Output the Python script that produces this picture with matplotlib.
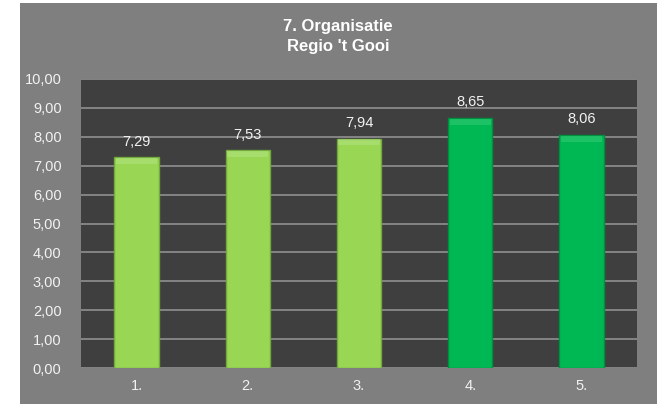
import matplotlib.pyplot as plt
from matplotlib.patches import Rectangle

categories = ["1.", "2.", "3.", "4.", "5."]
scores = [7.29, 7.53, 7.94, 8.65, 8.06]
colors = ["#98d654", "#98d654", "#98d654", "#00b853", "#00b853"]
edges = ["#72a83c", "#72a83c", "#72a83c", "#008f3e", "#008f3e"]
highlights = ["#b4e483", "#b4e483", "#b4e483", "#35c977", "#35c977"]
y_ticks = [0, 1, 2, 3, 4, 5, 6, 7, 8, 9, 10]

plt.rcParams['font.family'] = ['Liberation Sans', 'DejaVu Sans']

fig = plt.figure(figsize=(6.57, 4.04), dpi=100)
fig.patch.set_facecolor("white")
# grey chart panel behind the axes
fig.patches.append(Rectangle((20 / 657, 0), 1 - 20 / 657, 1 - 3 / 404,
                             transform=fig.transFigure, facecolor="#7f7f7f",
                             edgecolor="none", zorder=-10))

ax = fig.add_axes([81 / 657, 36 / 404, 556 / 657, 289 / 404])
ax.set_zorder(1)
ax.set_facecolor("#3f3f3f")

x = range(len(categories))
ax.bar(x, scores, width=0.4, color=colors, edgecolor=edges, linewidth=1.0, zorder=3)
# light bevel along the top of each bar
ax.bar(x, [0.22] * len(scores), width=0.37, bottom=[s - 0.24 for s in scores],
       color=highlights, edgecolor="none", alpha=0.55, zorder=4)

for i, s in enumerate(scores):
    ax.text(i, s + 0.3, f"{s:.2f}".replace(".", ","), ha="center", va="bottom",
            color="#f2f2f2", fontsize=10.5, zorder=5)

ax.set_ylim(0, 10)
ax.set_xlim(-0.5, len(categories) - 0.5)
ax.set_yticks(y_ticks)
ax.set_yticklabels([f"{t:.2f}".replace(".", ",") for t in y_ticks])
ax.set_xticks(list(x))
ax.set_xticklabels(categories)
ax.tick_params(axis="both", length=0, colors="#f2f2f2", labelsize=10.5)
ax.tick_params(axis="y", pad=14)
ax.tick_params(axis="x", pad=8)
ax.grid(axis="y", color="#8a8a8a", linewidth=1.3, zorder=1)
ax.set_axisbelow(True)
for side in ["left", "right", "bottom", "top"]:
    ax.spines[side].set_visible(False)

fig.text(338 / 657, 1 - 26 / 404, "7. Organisatie", ha="center", va="center",
         color="white", fontsize=12, fontweight="bold")
fig.text(338 / 657, 1 - 47 / 404, "Regio 't Gooi", ha="center", va="center",
         color="white", fontsize=12, fontweight="bold")

plt.savefig("out.png", dpi=100, facecolor=fig.get_facecolor())
